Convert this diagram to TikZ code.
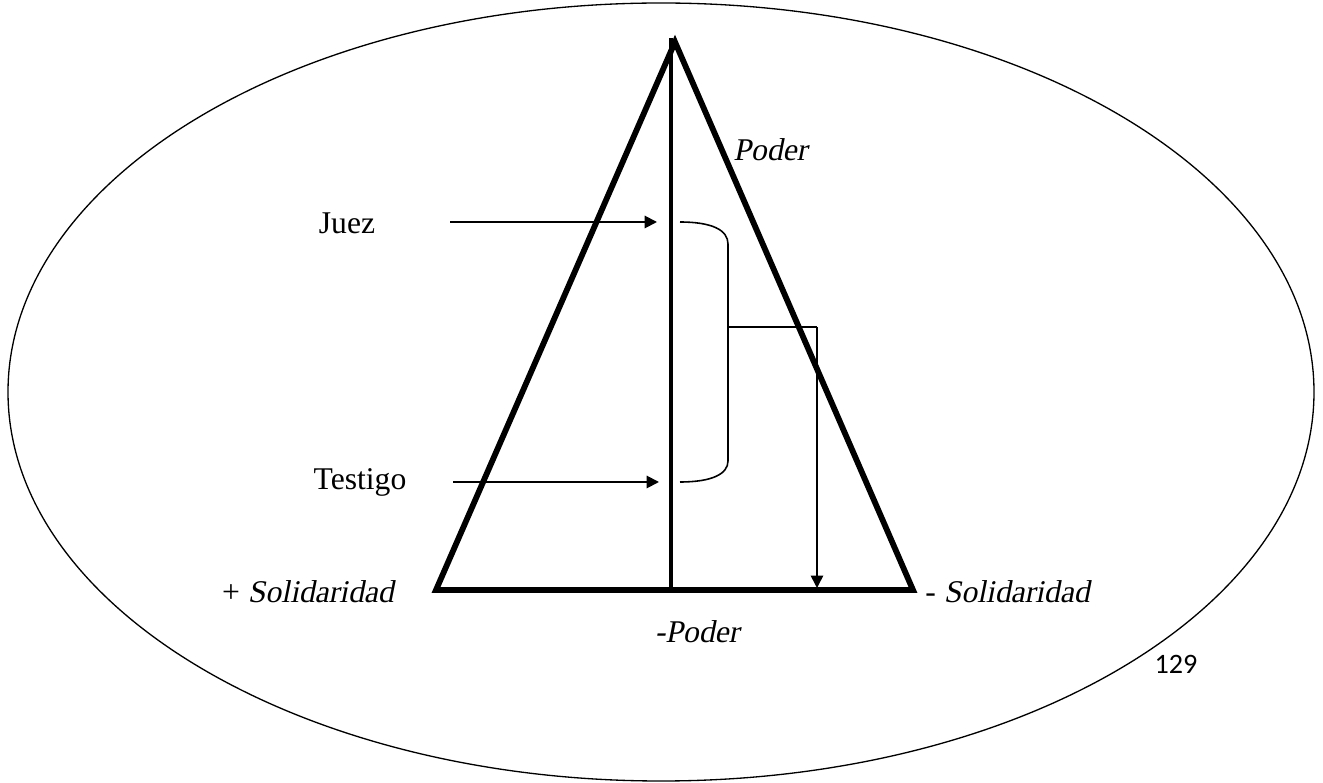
\documentclass[tikz,border=0pt]{standalone}
\usepackage{fontspec}
\setmainfont{Liberation Serif}
\newfontfamily\slantfont{Liberation Serif}[FakeSlant=0.2]
\newfontfamily\pagefont{Carlito}
\usetikzlibrary{positioning,calc,arrows.meta}

\begin{document}
\begin{tikzpicture}[
  x=0.02cm, y=-0.02cm,
  font=\fontsize{18}{22}\selectfont,
  >=Stealth,
  tri/.style={line width=3.3pt, line join=miter},
  axis/.style={line width=1.9pt},
  arr/.style={-{Triangle[length=7pt,width=7pt]}, line width=1.1pt},
  brk/.style={line width=0.9pt},
  lbl/.style={inner sep=0pt},
]
\useasboundingbox (0,0) rectangle (1323,783);

% outer ellipse
\draw[line width=0.75pt] (661,392) ellipse [x radius=653, y radius=389];

% triangle and its axis
\coordinate (top) at (675,42);
\coordinate (bl) at (436,590);
\coordinate (br) at (913,590);
\coordinate (axtop) at (671,38);
\coordinate (axbot) at (671,590);
\draw[tri] (bl) -- (top) -- (br) -- cycle;
\draw[axis] (axtop) -- (axbot);

% labels
\node[lbl, anchor=west] (poder) at (733,150) {\slantfont Poder};
\node[lbl] (juez) at (347,223) {Juez};
\node[lbl] (testigo) at (360,482) {Testigo};
\node[lbl, anchor=east] (solmas) at (394,592) {+ {\slantfont Solidaridad}};
\node[lbl, anchor=west] (solmenos) at (925,592) {- {\slantfont Solidaridad}};
\node[lbl] (podermenos) at (697,632) {\slantfont -Poder};
\node[lbl, font=\pagefont\fontsize{16}{18}\selectfont] (pag) at (1176,664) {129};

% arrows to the axis
\coordinate (juezA) at (450,222);
\coordinate (juezB) at (657,222);
\coordinate (testA) at (453,482);
\coordinate (testB) at (659,482);
\draw[arr] (juezA) -- (juezB);
\draw[arr] (testA) -- (testB);

% bracket and drop arrow
\coordinate (bt) at (680,222);
\coordinate (bb) at (680,482);
\coordinate (bmid) at (728,327);
\coordinate (drop) at (817,327);
\coordinate (dropend) at (817,588);
\draw[brk] (bt) .. controls (712,222) and (728,230) .. (728,244)
  -- (728,461) .. controls (728,474) and (712,482) .. (bb);
\draw[brk] (bmid) -- (drop);
\draw[arr, line width=0.9pt] (drop) -- (dropend);

\end{tikzpicture}
\end{document}
